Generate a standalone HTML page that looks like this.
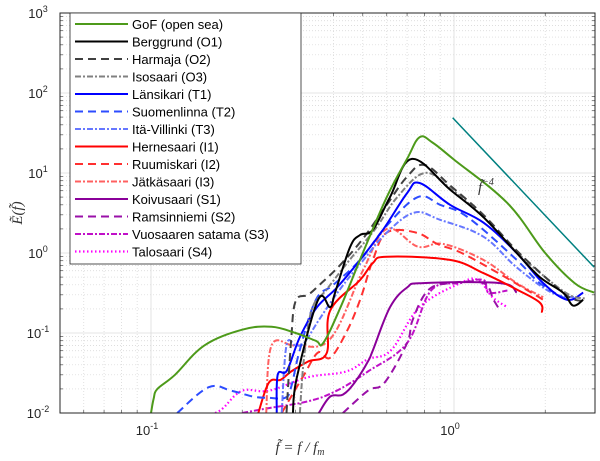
<!DOCTYPE html>
<html><head><meta charset="utf-8"><style>
body{margin:0;background:#fff}
svg{display:block;font-family:"Liberation Sans",sans-serif}
</style></head><body>
<svg id="c" width="600" height="461" xmlns="http://www.w3.org/2000/svg"></svg>
<script>
const xTicks=[0.1,1];
const xTickLabels=["10","10"];
const xTickExp=["-1","0"];
const yTicks=[0.01,0.1,1,10,100,1000];
const yTickExp=["-2","-1","0","1","2","3"];
const names=["GoF (open sea)","Berggrund (O1)","Harmaja (O2)","Isosaari (O3)","Länsikari (T1)","Suomenlinna (T2)","Itä-Villinki (T3)","Hernesaari (I1)","Ruumiskari (I2)","Jätkäsaari (I3)","Koivusaari (S1)","Ramsinniemi (S2)","Vuosaaren satama (S3)","Talosaari (S4)"];
const fGoF=[0.1,0.102,0.105,0.12,0.15,0.2,0.25,0.3,0.35,0.37,0.42,0.5,0.6,0.7,0.77,0.85,1.0,1.5,2.0,2.5,2.9];
const eGoF=[0.01,0.015,0.02,0.03,0.07,0.11,0.12,0.1,0.08,0.075,0.2,1.0,5,15,28,24,14.7,4.2,1.0,0.42,0.32];
const fO1=[0.294,0.303,0.356,0.39,0.405,0.454,0.49,0.54,0.615,0.727,0.97,1.25,1.61,1.92,2.29,2.47,2.67];
const eO1=[0.01,0.028,0.26,0.21,0.32,1.19,1.68,1.95,5.0,15,6.2,2.8,1.0,0.5,0.32,0.22,0.26];
const fO2=[0.28,0.29,0.3,0.33,0.36,0.42,0.5,0.6,0.7,0.8,0.97,1.25,1.6,2.0,2.4,2.7];
const eO2=[0.01,0.08,0.25,0.3,0.4,0.7,1.5,4,9,12.6,7,3,1.1,0.5,0.28,0.25];
const fO3=[0.31,0.32,0.34,0.38,0.45,0.55,0.65,0.8,0.97,1.25,1.6,2.0,2.4,2.7];
const eO3=[0.01,0.05,0.2,0.35,0.8,2,5,10,6.5,2.8,1.05,0.5,0.3,0.27];
const fT1=[0.26,0.262,0.281,0.31,0.353,0.411,0.49,0.583,0.70,0.77,0.97,1.25,1.61,1.97,2.36,2.67];
const eT1=[0.01,0.03,0.034,0.089,0.21,0.37,0.82,1.95,5.6,7.5,4.0,2.4,1.0,0.42,0.26,0.32];
const fT2=[0.122,0.155,0.184,0.218,0.245,0.277,0.29,0.31,0.35,0.4,0.49,0.6,0.76,0.9,1.11,1.61,1.92,2.36];
const eT2=[0.01,0.021,0.019,0.016,0.0155,0.0155,0.021,0.062,0.26,0.4,0.82,2.2,5.0,4,2.8,0.82,0.42,0.26];
const fT3=[0.27,0.28,0.3,0.32,0.36,0.42,0.5,0.6,0.74,0.9,1.25,1.61,2.1,2.5];
const eT3=[0.01,0.07,0.07,0.075,0.15,0.35,0.8,1.8,3.2,2.6,1.6,0.66,0.32,0.28];
const fI1=[0.226,0.245,0.268,0.29,0.33,0.38,0.39,0.49,0.54,0.6,0.97,1.25,1.61,1.92,1.95];
const eI1=[0.01,0.024,0.026,0.033,0.044,0.056,0.19,0.46,0.75,0.9,0.82,0.56,0.35,0.24,0.18];
const fI2=[0.27,0.29,0.32,0.356,0.39,0.44,0.49,0.54,0.6,0.75,0.88,1.06,1.4,1.8,1.97];
const eI2=[0.01,0.016,0.03,0.057,0.049,0.1,0.26,0.82,1.8,1.8,1.3,1.0,0.56,0.32,0.26];
const fI3=[0.24,0.25,0.3,0.39,0.5,0.6,0.76,0.92,1.25,1.61,1.97];
const eI3=[0.01,0.07,0.07,0.084,0.6,2.0,1.2,1.3,0.82,0.42,0.28];
const fS1=[0.358,0.39,0.43,0.47,0.52,0.54,0.615,0.70,0.79,1.42,1.61];
const eS1=[0.01,0.016,0.017,0.024,0.044,0.061,0.21,0.37,0.42,0.42,0.32];
const fS2=[0.43,0.52,0.59,0.70,0.73,0.82,0.97,1.25,1.35,1.42];
const eS2=[0.01,0.019,0.024,0.075,0.145,0.34,0.42,0.42,0.26,0.19];
const fS3=[0.2,0.245,0.33,0.41,0.52,0.70,0.84,1.05,1.25,1.3,1.5];
const eS3=[0.01,0.0115,0.014,0.019,0.033,0.075,0.34,0.42,0.46,0.32,0.34];
const fS4=[0.163,0.173,0.2,0.245,0.33,0.44,0.52,0.62,0.77,1.05,1.2,1.34,1.5];
const eS4=[0.01,0.0115,0.019,0.019,0.028,0.033,0.047,0.061,0.21,0.42,0.46,0.28,0.21];
const refF=[0.99,2.9];
const refE=[49,49/Math.pow(2.9/0.99,4)];

const X0=60,X1=595,Y0=13,Y1=413;
const sx=f=>454+303*Math.log10(f);
const sy=e=>413-80*(Math.log10(e)+2);
const NS="http://www.w3.org/2000/svg";
const svg=document.getElementById('c');
function mk(t,a,p){const e=document.createElementNS(NS,t);for(const k in a)e.setAttribute(k,a[k]);(p||svg).appendChild(e);return e;}
function smooth(pts){let d='M'+pts[0][0].toFixed(1)+','+pts[0][1].toFixed(1);
 for(let i=0;i<pts.length-1;i++){const p0=pts[Math.max(0,i-1)],p1=pts[i],p2=pts[i+1],p3=pts[Math.min(pts.length-1,i+2)];
  const t=0.18;
  const c1=[p1[0]+(p2[0]-p0[0])*t,p1[1]+(p2[1]-p0[1])*t],c2=[p2[0]-(p3[0]-p1[0])*t,p2[1]-(p3[1]-p1[1])*t];
  d+='C'+c1.map(v=>v.toFixed(1)).join(',')+' '+c2.map(v=>v.toFixed(1)).join(',')+' '+p2.map(v=>v.toFixed(1)).join(',');}
 return d;}
const clip=mk('clipPath',{id:'pc'});mk('rect',{x:X0,y:Y0,width:X1-X0,height:Y1-Y0},clip);
const grid=mk('g',{});


for(let d=-2;d<=0;d++)for(let m=2;m<=9;m++){const v=m*Math.pow(10,d);const x=sx(v);if(x<=X0||x>=X1)continue;mk('line',{x1:x,x2:x,y1:Y0,y2:Y1,stroke:'#d4d4d4','stroke-width':0.7,'stroke-dasharray':'1,2'},grid);mk('line',{x1:x,x2:x,y1:Y1,y2:Y1-3,stroke:'#333','stroke-width':0.6},grid);mk('line',{x1:x,x2:x,y1:Y0,y2:Y0+3,stroke:'#333','stroke-width':0.6},grid);}
for(let d=-2;d<=2;d++)for(let m=2;m<=9;m++){const y=sy(m*Math.pow(10,d));mk('line',{x1:X0,x2:X1,y1:y,y2:y,stroke:'#d4d4d4','stroke-width':0.7,'stroke-dasharray':'1,2'},grid);mk('line',{x1:X0,x2:X0+3,y1:y,y2:y,stroke:'#333','stroke-width':0.6},grid);mk('line',{x1:X1,x2:X1-3,y1:y,y2:y,stroke:'#333','stroke-width':0.6},grid);}
xTicks.forEach((v,i)=>{const x=sx(v);mk('line',{x1:x,x2:x,y1:Y0,y2:Y1,stroke:'#dcdcdc','stroke-width':0.8},grid);
 const t=mk('text',{x:x-4,y:Y1+22,'font-size':13,fill:'#262626','text-anchor':'middle'});t.textContent=xTickLabels[i];
 
 const s=mk('tspan',{dy:-6,'font-size':9},t);s.textContent=xTickExp[i];});
yTicks.forEach((v,i)=>{const y=sy(v);mk('line',{x1:X0,x2:X1,y1:y,y2:y,stroke:'#dcdcdc','stroke-width':0.8},grid);
 const t=mk('text',{x:X0-22,y:y+5,'font-size':13,fill:'#262626','text-anchor':'middle'});t.textContent='10';
 
 const s=mk('tspan',{dy:-6,'font-size':9},t);s.textContent=yTickExp[i];});

const styles=[
 ['#4d9a1a','',2],['#000','',2],['#404040','8,5',2],['#808080','6,2,2,2',2],
 ['#0000ff','',2],['#2d4cff','8,5',2],['#6677ff','6,2,2,2',2],
 ['#ff0000','',2],['#ff3030','8,5',2],['#ff6060','6,2,2,2',2],
 ['#8a0099','',2],['#9a10a8','8,5',2],['#c010c8','6,2,2,2',2],['#ff00ff','1.5,2.5',2.2]];
const series=[[fGoF,eGoF],[fO1,eO1],[fO2,eO2],[fO3,eO3],[fT1,eT1],[fT2,eT2],[fT3,eT3],[fI1,eI1],[fI2,eI2],[fI3,eI3],[fS1,eS1],[fS2,eS2],[fS3,eS3],[fS4,eS4]];
const sg=mk('g',{'clip-path':'url(#pc)'});
const order=[13,12,11,10,9,8,7,6,5,4,3,2,1,0];
order.forEach(i=>{const [f,e]=series[i];const pts=f.map((v,j)=>[sx(v),sy(e[j])]);
 const p=mk('path',{d:smooth(pts),fill:'none',stroke:styles[i][0],'stroke-width':styles[i][2],'stroke-dasharray':styles[i][1],'stroke-linejoin':'round'},sg);
 
 });
const ref=mk('path',{d:'M'+sx(refF[0])+','+sy(refE[0])+'L'+sx(refF[1])+','+sy(refE[1]),stroke:'#008080','stroke-width':1.5,fill:'none'},sg);


const rl=mk('text',{x:478,y:192,'font-size':15,'font-family':'Liberation Serif,serif','font-style':'italic',fill:'#333'});


rl.textContent='f̃';const rs=mk('tspan',{dy:-7,'font-size':10},rl);rs.textContent='−4';

mk('rect',{x:X0,y:Y0,width:X1-X0,height:Y1-Y0,fill:'none',stroke:'#262626','stroke-width':1});
const lg=mk('g',{});


mk('rect',{x:70,y:13,width:231,height:251,fill:'#fff',stroke:'#262626','stroke-width':0.8},lg);
names.forEach((n,i)=>{const y=24+i*17.5;
 const l=mk('line',{x1:75,x2:128,y1:y,y2:y,stroke:styles[i][0],'stroke-width':styles[i][2],'stroke-dasharray':styles[i][1]},lg);
 
 
 const t=mk('text',{x:132,y:y+5,'font-size':13,fill:'#000'},lg);t.textContent=n;
 
 });
const xt=mk('text',{x:300,y:452,'font-size':15,'font-family':'Liberation Serif,serif','font-style':'italic',fill:'#333','text-anchor':'middle'});


xt.innerHTML='f̃ = f / f<tspan dy="3" font-size="10">m</tspan>';
const yt=mk('text',{x:0,y:0,'font-size':15,'font-family':'Liberation Serif,serif','font-style':'italic',fill:'#333','text-anchor':'middle',transform:'translate(22,213) rotate(-90)'});


yt.textContent='Ẽ(f̃)';
</script>
</body></html>
